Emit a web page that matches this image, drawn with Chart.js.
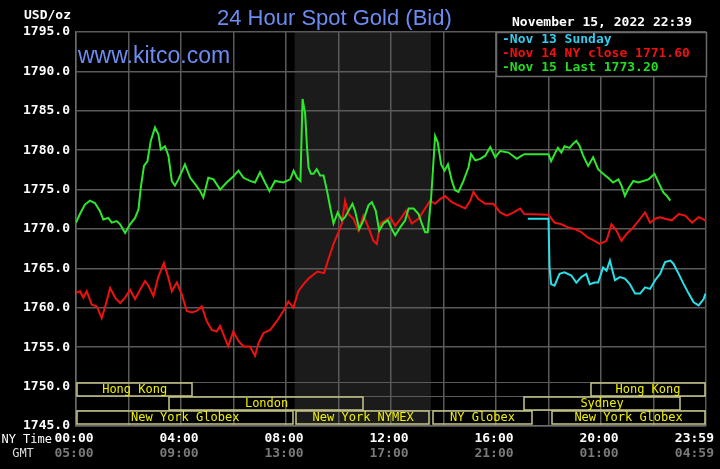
<!DOCTYPE html>
<html>
<head>
<meta charset="utf-8">
<script src="https://cdn.jsdelivr.net/npm/chart.js@4.4.0/dist/chart.umd.min.js"></script>
<style>
  html, body { margin: 0; padding: 0; background: #000; }
  #wrap { width: 720px; height: 469px; }
</style>
</head>
<body>
<div id="wrap"><canvas id="gold" width="720" height="469"></canvas></div>
<script>
// hours since 00:00 NY time
const nov15Hours = [0, 0.15, 0.34, 0.53, 0.72, 0.91, 1.04, 1.23, 1.36, 1.55, 1.68, 1.87, 2.06, 2.25, 2.38, 2.47, 2.59, 2.72, 2.85, 3.01, 3.14, 3.23, 3.39, 3.52, 3.65, 3.77, 3.9, 4.15, 4.35, 4.54, 4.73, 4.85, 5.04, 5.24, 5.49, 5.74, 6.0, 6.19, 6.38, 6.63, 6.82, 7.01, 7.2, 7.37, 7.58, 7.9, 8.16, 8.29, 8.42, 8.55, 8.63, 8.73, 8.8, 8.86, 8.95, 9.05, 9.17, 9.3, 9.43, 9.56, 9.68, 9.81, 9.97, 10.13, 10.25, 10.38, 10.53, 10.63, 10.79, 10.95, 11.14, 11.27, 11.42, 11.55, 11.71, 11.88, 12.03, 12.16, 12.35, 12.54, 12.67, 12.86, 13.05, 13.17, 13.3, 13.4, 13.53, 13.68, 13.78, 13.91, 14.04, 14.17, 14.32, 14.44, 14.57, 14.76, 14.95, 15.05, 15.21, 15.4, 15.59, 15.78, 15.97, 16.16, 16.48, 16.79, 16.98, 17.08, 18.0, 18.1, 18.23, 18.36, 18.49, 18.61, 18.8, 18.93, 19.06, 19.19, 19.32, 19.51, 19.7, 19.89, 20.08, 20.27, 20.46, 20.66, 20.78, 20.91, 21.04, 21.23, 21.42, 21.61, 21.81, 22.04, 22.19, 22.38, 22.51, 22.64];
const nov15Prices = [1770.8, 1771.9, 1773.1, 1773.6, 1773.3, 1772.3, 1771.2, 1771.4, 1770.8, 1771.0, 1770.6, 1769.5, 1770.6, 1771.4, 1772.5, 1775.3, 1778.0, 1778.6, 1781.2, 1782.9, 1782.0, 1780.1, 1780.5, 1779.3, 1776.1, 1775.5, 1776.3, 1778.2, 1776.5, 1775.7, 1774.8, 1774.0, 1776.5, 1776.3, 1775.0, 1775.9, 1776.7, 1777.4, 1776.5, 1776.1, 1775.9, 1777.2, 1775.9, 1774.8, 1776.1, 1775.9, 1776.3, 1777.4, 1776.5, 1776.1, 1786.5, 1784.6, 1780.4, 1777.8, 1777.0, 1777.0, 1777.6, 1776.8, 1776.8, 1774.9, 1772.8, 1770.7, 1772.1, 1771.1, 1771.5, 1772.3, 1773.2, 1772.3, 1770.0, 1771.1, 1773.0, 1773.4, 1772.3, 1769.8, 1770.7, 1771.1, 1770.0, 1769.2, 1770.2, 1771.1, 1772.6, 1772.6, 1771.9, 1770.7, 1769.6, 1769.6, 1774.0, 1781.8, 1781.0, 1778.2, 1777.4, 1778.2, 1776.1, 1774.9, 1774.7, 1776.1, 1777.8, 1779.5, 1778.7, 1778.9, 1779.3, 1780.4, 1779.1, 1779.9, 1779.7, 1778.9, 1779.3, 1779.5, 1779.5, 1778.6, 1779.5, 1780.3, 1779.7, 1780.5, 1780.3, 1780.8, 1781.2, 1780.5, 1779.3, 1778.0, 1779.1, 1777.6, 1777.0, 1776.5, 1775.9, 1776.3, 1775.5, 1774.2, 1775.1, 1776.1, 1775.9, 1776.1, 1776.3, 1777.0, 1775.9, 1774.6, 1774.2, 1773.6];

const nov14Hours = [0, 0.15, 0.28, 0.41, 0.6, 0.79, 0.98, 1.1, 1.3, 1.49, 1.68, 1.87, 2.06, 2.25, 2.44, 2.63, 2.76, 2.95, 3.14, 3.35, 3.52, 3.65, 3.84, 4.03, 4.22, 4.41, 4.6, 4.79, 4.98, 5.17, 5.36, 5.49, 5.62, 5.8, 5.99, 6.19, 6.38, 6.63, 6.82, 6.95, 7.14, 7.4, 7.65, 7.9, 8.09, 8.28, 8.47, 8.67, 8.89, 9.2, 9.45, 9.62, 9.81, 10.0, 10.13, 10.25, 10.38, 10.57, 10.76, 10.95, 11.14, 11.33, 11.46, 11.59, 11.78, 11.97, 12.16, 12.41, 12.57, 12.79, 13.05, 13.3, 13.49, 13.68, 13.87, 14.06, 14.32, 14.57, 14.83, 15.02, 15.14, 15.33, 15.59, 15.9, 16.16, 16.41, 16.67, 16.92, 17.08, 18.0, 18.23, 18.49, 18.74, 19.0, 19.25, 19.51, 19.76, 19.95, 20.21, 20.4, 20.59, 20.78, 20.98, 21.23, 21.49, 21.68, 21.87, 22.06, 22.25, 22.44, 22.7, 22.96, 23.21, 23.47, 23.72, 23.98];
const nov14Prices = [1761.9, 1762.1, 1761.3, 1762.1, 1760.4, 1760.2, 1758.7, 1760.0, 1762.5, 1761.3, 1760.6, 1761.3, 1762.3, 1761.1, 1762.3, 1763.4, 1762.8, 1761.5, 1764.0, 1765.7, 1763.8, 1762.1, 1763.2, 1761.7, 1759.6, 1759.4, 1759.6, 1760.2, 1758.3, 1757.2, 1757.0, 1757.7, 1756.6, 1755.1, 1757.0, 1755.8, 1755.1, 1755.1, 1753.9, 1755.5, 1756.8, 1757.2, 1758.3, 1759.6, 1760.8, 1760.0, 1762.1, 1763.0, 1763.8, 1764.6, 1764.4, 1766.2, 1768.1, 1769.6, 1770.7, 1773.6, 1771.9, 1771.3, 1769.8, 1771.7, 1770.2, 1768.5, 1768.1, 1770.7, 1771.1, 1771.5, 1770.4, 1771.5, 1772.3, 1770.7, 1771.3, 1772.6, 1773.6, 1773.2, 1773.8, 1774.2, 1773.4, 1773.0, 1772.6, 1773.6, 1774.7, 1773.8, 1773.2, 1773.2, 1772.1, 1771.7, 1772.1, 1772.6, 1771.9, 1771.8, 1770.8, 1770.6, 1770.2, 1770.0, 1769.6, 1768.9, 1768.5, 1768.1, 1768.5, 1770.6, 1769.8, 1768.5, 1769.4, 1770.2, 1771.3, 1772.1, 1770.8, 1771.3, 1771.5, 1771.3, 1771.1, 1771.9, 1771.7, 1770.8, 1771.5, 1771.1];

const nov13Hours = [17.21, 18.0, 18.04, 18.1, 18.23, 18.42, 18.61, 18.87, 19.06, 19.25, 19.44, 19.57, 19.76, 19.89, 20.08, 20.21, 20.34, 20.53, 20.72, 20.91, 21.1, 21.3, 21.49, 21.68, 21.87, 22.06, 22.25, 22.44, 22.64, 22.76, 22.96, 23.15, 23.34, 23.53, 23.72, 23.91, 23.98];
const nov13Prices = [1771.3, 1771.3, 1765.1, 1763.0, 1762.8, 1764.3, 1764.5, 1764.1, 1763.2, 1763.9, 1764.3, 1763.0, 1763.2, 1763.2, 1765.1, 1764.7, 1766.0, 1763.5, 1763.9, 1763.7, 1763.0, 1761.8, 1761.8, 1762.6, 1762.4, 1763.5, 1764.3, 1765.8, 1766.0, 1765.6, 1764.3, 1763.0, 1761.8, 1760.7, 1760.3, 1761.1, 1761.8];

const legendLabels = ["Nov 13 Sunday", "Nov 14 NY close 1771.60", "Nov 15 Last 1773.20"];
const legendColors = ["#33ccee", "#ee1111", "#22dd22"];

const tickHours = [0, 4, 8, 12, 16, 20, 24];
const nyTickLabels = ["00:00", "04:00", "08:00", "12:00", "16:00", "20:00", "23:59"];
const gmtTickLabels = ["05:00", "09:00", "13:00", "17:00", "21:00", "01:00", "04:59"];

const sessionNames = ["Hong Kong", "London", "New York Globex", "New York NYMEX", "NY Globex", "Hong Kong", "Sydney", "New York Globex"];
const sessionStart = [0, 3.52, 0, 8.36, 13.56, 19.58, 17.03, 18.1];
const sessionEnd = [4.47, 11.0, 8.32, 13.52, 17.41, 24, 23.05, 24];
const sessionRow = [0, 1, 2, 2, 2, 0, 1, 2];

const nymexOpen = 8.33;
const nymexClose = 13.52;

const MONO = '"DejaVu Sans Mono", "Liberation Mono", monospace';

function toPoints(hours, prices) {
  return hours.map((h, i) => ({ x: h, y: prices[i] }));
}

const kitcoPlugin = {
  id: "kitco",
  beforeDraw(chart) {
    const { ctx, chartArea, scales } = chart;
    ctx.save();
    ctx.fillStyle = "#000";
    ctx.fillRect(0, 0, chart.width, chart.height);
    const x0 = scales.x.getPixelForValue(nymexOpen);
    const x1 = scales.x.getPixelForValue(nymexClose);
    ctx.fillStyle = "#1b1b1b";
    ctx.fillRect(x0, chartArea.top, x1 - x0, chartArea.bottom - chartArea.top);
    ctx.restore();
  },
  afterDraw(chart) {
    const { ctx, chartArea, scales } = chart;
    const x = scales.x;
    const y = scales.y;
    ctx.save();

    // session band
    const bandTop = 1750.58;
    const rowH = 1.777;
    ctx.strokeStyle = "#5a5a5a";
    ctx.lineWidth = 1;
    for (let r = 0; r < 3; r++) {
      const py = Math.round(y.getPixelForValue(bandTop - r * rowH)) + 0.5;
      ctx.beginPath();
      ctx.moveTo(chartArea.left, py);
      ctx.lineTo(chartArea.right, py);
      ctx.stroke();
    }
    ctx.font = "12px " + MONO;
    ctx.textAlign = "center";
    ctx.textBaseline = "middle";
    for (let i = 0; i < sessionNames.length; i++) {
      const top = y.getPixelForValue(bandTop - sessionRow[i] * rowH);
      const bot = y.getPixelForValue(bandTop - (sessionRow[i] + 1) * rowH);
      const left = x.getPixelForValue(sessionStart[i]);
      const right = x.getPixelForValue(sessionEnd[i]);
      ctx.strokeStyle = "#c8c88a";
      ctx.lineWidth = 1.5;
      ctx.strokeRect(Math.round(left) + 1, Math.round(top) + 1, Math.round(right - left) - 2, Math.round(bot - top) - 1);
      ctx.fillStyle = "#f0f000";
      ctx.fillText(sessionNames[i], (left + right) / 2, (top + bot) / 2 + 1);
    }

    // legend box
    const lx = x.getPixelForValue(16);
    ctx.fillStyle = "#000";
    ctx.fillRect(lx, chartArea.top, chartArea.right - lx, 44);
    ctx.strokeStyle = "#6a6a6a";
    ctx.lineWidth = 1.5;
    ctx.strokeRect(lx + 0.5, chartArea.top + 0.5, chartArea.right - lx, 44);
    ctx.font = "bold 13px " + MONO;
    ctx.textAlign = "left";
    ctx.textBaseline = "middle";
    legendLabels.forEach((label, i) => {
      ctx.fillStyle = legendColors[i];
      ctx.fillText("-" + label, lx + 6, chartArea.top + 8 + i * 14);
    });

    // titles
    ctx.fillStyle = "#6c8cf2";
    ctx.font = '22px "Liberation Sans", Arial, sans-serif';
    ctx.textBaseline = "alphabetic";
    ctx.fillText("24 Hour Spot Gold (Bid)", 217, 25);
    ctx.font = '23px "Liberation Sans", Arial, sans-serif';
    ctx.fillText("www.kitco.com", 78, 63);

    ctx.fillStyle = "#fff";
    ctx.font = "bold 13px " + MONO;
    ctx.textBaseline = "middle";
    ctx.fillText("November 15, 2022 22:39", 512, 23);
    ctx.textAlign = "right";
    ctx.fillText("USD/oz", 71, 16);

    // x labels
    ctx.font = "12px " + MONO;
    ctx.fillText("NY Time", 52, 440);
    ctx.textAlign = "center";
    ctx.fillStyle = "#ddd";
    ctx.fillText("GMT", 23, 454);
    ctx.font = "bold 13px " + MONO;
    tickHours.forEach((h, i) => {
      const w = ctx.measureText(nyTickLabels[i]).width;
      const px = Math.min(x.getPixelForValue(h) - 2, chart.width - 6 - w / 2);
      ctx.fillStyle = "#fff";
      ctx.fillText(nyTickLabels[i], px, 439);
      ctx.fillStyle = "#7a7a7a";
      ctx.fillText(gmtTickLabels[i], px, 454);
    });
    ctx.restore();
  },
};

new Chart(document.getElementById("gold"), {
  type: "line",
  data: {
    datasets: [
      { label: legendLabels[2], data: toPoints(nov15Hours, nov15Prices), borderColor: "#2ee82e" },
      { label: legendLabels[1], data: toPoints(nov14Hours, nov14Prices), borderColor: "#ee1111" },
      { label: legendLabels[0], data: toPoints(nov13Hours, nov13Prices), borderColor: "#2adfe8" },
    ],
  },
  options: {
    responsive: false,
    animation: false,
    layout: { padding: { left: 0, right: 14, top: 32, bottom: 0 } },
    elements: {
      point: { radius: 0 },
      line: { borderWidth: 2, tension: 0 },
    },
    plugins: {
      legend: { display: false },
      tooltip: { enabled: false },
    },
    scales: {
      x: {
        type: "linear",
        min: 0,
        max: 24,
        afterFit: (s) => { s.height = 43; },
        grid: { color: "#5a5a5a", drawTicks: false, lineWidth: 1.5 },
        border: { color: "#6a6a6a", width: 1.5 },
        ticks: { stepSize: 2, display: false },
      },
      y: {
        min: 1745,
        max: 1795,
        afterFit: (s) => { s.width = 76; },
        grid: {
          color: (c) => (c.tick && c.tick.value === 1750 ? "rgba(0,0,0,0)" : "#5a5a5a"),
          drawTicks: false,
          lineWidth: 1.5,
        },
        border: { color: "#6a6a6a", width: 1.5 },
        ticks: {
          stepSize: 5,
          padding: 6,
          color: "#fff",
          font: { family: MONO, size: 13, weight: "bold" },
          callback: (v) => v.toFixed(1),
        },
      },
    },
  },
  plugins: [kitcoPlugin],
});
</script>
</body>
</html>
